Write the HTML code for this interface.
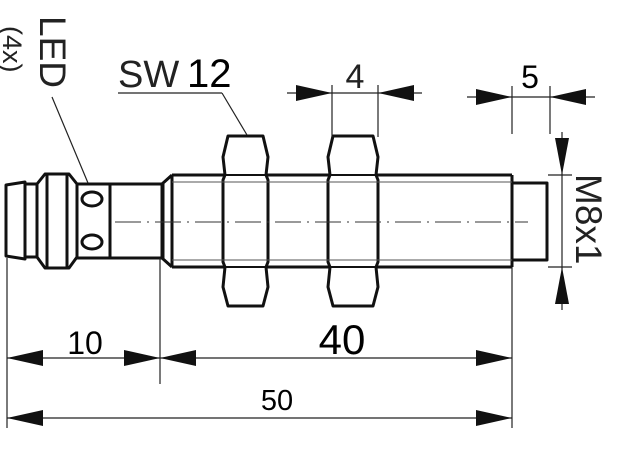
<!DOCTYPE html>
<html><head><meta charset="utf-8"><style>
html,body{margin:0;padding:0;background:#fff;}
svg{display:block;}
text{font-family:"Liberation Sans","DejaVu Sans",sans-serif;}
</style></head><body>
<svg width="622" height="450" viewBox="0 0 622 450" xmlns="http://www.w3.org/2000/svg">
<g fill="none" stroke="#111" stroke-width="3" stroke-linejoin="round">
<path d="M6,185 L25,182 L25,259 L6,256 Z"/>
<rect x="25" y="184" width="12" height="73"/>
<path d="M37,184 L45,174 L69,174 L77,184 L77,257 L69,268 L45,268 L37,257 Z"/>
<line x1="47" y1="174" x2="47" y2="268"/>
<line x1="67" y1="174" x2="67" y2="268"/>
<rect x="77" y="184" width="33" height="74"/>
<ellipse cx="92" cy="199" rx="10" ry="7"/>
<ellipse cx="92" cy="242" rx="10" ry="7"/>
<rect x="110" y="184" width="52" height="74"/>
<path d="M162,184 L172,175 M162,258 L172,267"/>
<line x1="163" y1="184" x2="163" y2="258"/>
<line x1="172" y1="175" x2="172" y2="267"/>
<line x1="172" y1="175" x2="512" y2="175"/>
<line x1="172" y1="267" x2="512" y2="267"/>
<line x1="512" y1="175" x2="512" y2="267"/>
<rect x="512" y="183" width="35" height="77"/>
<path d="M228,136 L263,136 L268,157 L266,175 L268,180 L268,262 L266,267 L268,287 L263,306 L228,306 L223,287 L225,267 L223,262 L223,180 L225,175 L223,157 Z" fill="#fff"/>
<path d="M333,136 L373,136 L378,157 L376,175 L378,180 L378,262 L376,267 L378,287 L373,306 L333,306 L328,287 L330,267 L328,262 L328,180 L330,175 L328,157 Z" fill="#fff"/>
</g>
<g stroke="#111" stroke-width="2">
<line x1="225" y1="175" x2="266" y2="175"/><line x1="225" y1="267" x2="266" y2="267"/>
<line x1="330" y1="175" x2="376" y2="175"/><line x1="330" y1="267" x2="376" y2="267"/>
</g>
<g stroke="#555" stroke-width="1">
<line x1="172" y1="182" x2="512" y2="182"/><line x1="172" y1="260" x2="512" y2="260"/>
</g>
<line x1="115" y1="222" x2="528" y2="222" stroke="#333" stroke-width="1" stroke-dasharray="26,6,2,6"/>
<g stroke="#222" stroke-width="1.2" fill="none">
<line x1="7" y1="258" x2="7" y2="428"/>
<line x1="160" y1="258" x2="160" y2="384"/>
<line x1="512" y1="267" x2="512" y2="428"/>
<line x1="7" y1="358" x2="512" y2="358"/>
<line x1="7" y1="418" x2="512" y2="418"/>
<line x1="332" y1="85" x2="332" y2="137"/>
<line x1="378" y1="85" x2="378" y2="137"/>
<line x1="287" y1="93" x2="422" y2="93"/>
<line x1="512" y1="86" x2="512" y2="134"/>
<line x1="550" y1="86" x2="550" y2="134"/>
<line x1="467" y1="97" x2="595" y2="97"/>
<line x1="548" y1="175" x2="572" y2="175"/>
<line x1="548" y1="267" x2="572" y2="267"/>
<line x1="562" y1="132" x2="562" y2="310"/>
<line x1="118" y1="93" x2="222" y2="93"/>
<line x1="222" y1="93" x2="247" y2="135"/>
<line x1="52" y1="97" x2="88" y2="183"/>
</g>
<g fill="#111">
<path d="M7,358 L43,350 L43,366 Z"/>
<path d="M160,358 L124,350 L124,366 Z"/>
<path d="M160,358 L196,350 L196,366 Z"/>
<path d="M512,358 L476,350 L476,366 Z"/>
<path d="M7,418 L43,410 L43,426 Z"/>
<path d="M512,418 L476,410 L476,426 Z"/>
<path d="M332,93 L296,85 L296,101 Z"/>
<path d="M378,93 L414,85 L414,101 Z"/>
<path d="M512,97 L476,89 L476,105 Z"/>
<path d="M550,97 L586,89 L586,105 Z"/>
<path d="M562,175 L555,138 L569,138 Z"/>
<path d="M562,267 L555,304 L569,304 Z"/>
</g>
<text x="85" y="354" font-size="32" text-anchor="middle" fill="#000">10</text>
<text x="342" y="354" font-size="42" text-anchor="middle" fill="#000">40</text>
<text x="277" y="410" font-size="29" text-anchor="middle" fill="#000">50</text>
<text x="355" y="88" font-size="34" text-anchor="middle" fill="#222">4</text>
<text x="530" y="88" font-size="32" text-anchor="middle" fill="#000">5</text>
<text x="118" y="87" font-size="38" fill="#222">SW</text>
<text x="187" y="87" font-size="40" fill="#000">12</text>
<text transform="translate(576,174) rotate(90)" font-size="37" fill="#222">M8x1</text>
<text transform="translate(40,16) rotate(90)" font-size="37" fill="#222">LED</text>
<text transform="translate(3,26) rotate(90)" font-size="27" fill="#222">(4x)</text>
</svg>
</body></html>
